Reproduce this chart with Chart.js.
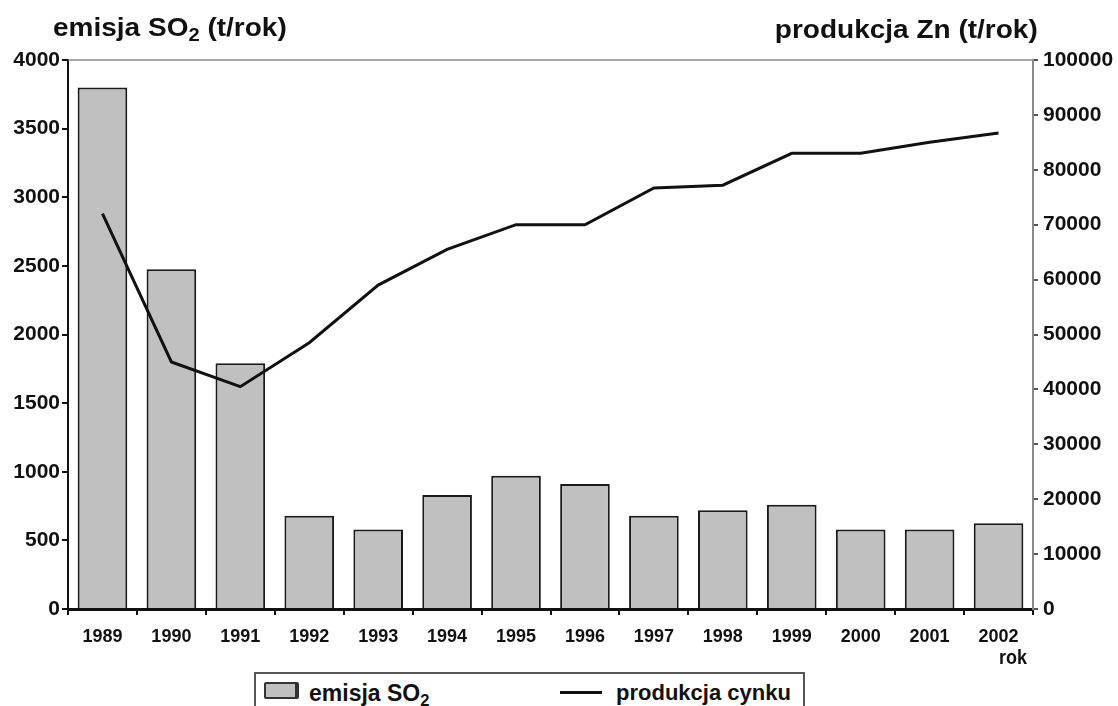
<!DOCTYPE html>
<html>
<head>
<meta charset="utf-8">
<script src="https://cdn.jsdelivr.net/npm/chart.js@4.4.1/dist/chart.umd.min.js"></script>
<style>
html,body{margin:0;padding:0;background:#fff;}
#wrap{position:relative;width:1118px;height:706px;overflow:hidden;font-family:'Liberation Sans',Arial,sans-serif;}
#c{position:absolute;left:0;top:0;}
.t{position:absolute;font-weight:bold;color:#111;white-space:nowrap;line-height:1;}
.t sub{font-size:0.72em;vertical-align:-0.28em;line-height:0;}
</style>
</head>
<body>
<div id="wrap">
  <canvas id="c" width="1118" height="706"></canvas>
  <div class="t" id="tl" style="left:53px;top:15px;font-size:25px;transform:scaleX(1.12);transform-origin:left top;">emisja SO<sub>2</sub> (t/rok)</div>
  <div class="t" id="tr" style="right:80px;top:17px;font-size:25px;transform:scaleX(1.12);transform-origin:right top;">produkcja Zn (t/rok)</div>
  <div class="t" id="rok" style="left:999px;top:647px;font-size:18px;transform:scaleY(1.15);transform-origin:left top;">rok</div>
  <div id="legend" style="position:absolute;left:254px;top:672px;width:551px;height:44px;border:2px solid #555;box-sizing:border-box;background:#fff;">
    <div style="position:absolute;left:8px;top:8px;width:35px;height:17px;background:#c0c0c0;border:2px solid #333;border-right-width:4px;border-radius:2px;box-sizing:border-box;"></div>
    <div class="t" style="left:53px;top:8px;font-size:23px;">emisja SO<sub>2</sub></div>
    <div style="position:absolute;left:304px;top:17px;width:42px;height:3px;background:#111;"></div>
    <div class="t" style="left:360px;top:8px;font-size:22px;">produkcja cynku</div>
  </div>
</div>
<script>
// ---- data ----
const years = ['1989','1990','1991','1992','1993','1994','1995','1996','1997','1998','1999','2000','2001','2002'];
const emisjaSO2 = [3800, 2475, 1790, 680, 580, 830, 970, 910, 680, 720, 760, 580, 580, 625];
const produkcjaZn = [72000, 45000, 40500, 48500, 59000, 65500, 70000, 70000, 76700, 77200, 83000, 83000, 85000, 86700];
const leftTicks = [0, 500, 1000, 1500, 2000, 2500, 3000, 3500, 4000];
const rightTicks = [0, 10000, 20000, 30000, 40000, 50000, 60000, 70000, 80000, 90000, 100000];

const tickFont = {family: "'Liberation Sans', Arial, sans-serif", size: 21, weight: 'bold'};
const xFont = {family: "'Liberation Sans', Arial, sans-serif", size: 18, weight: 'bold'};

const topBorder = {
  id: 'topBorder',
  afterDraw(chart) {
    const {ctx, chartArea} = chart;
    ctx.save();
    ctx.strokeStyle = '#888';
    ctx.lineWidth = 1.5;
    ctx.beginPath();
    ctx.moveTo(chartArea.left, chartArea.top);
    ctx.lineTo(chartArea.right, chartArea.top);
    ctx.stroke();
    ctx.restore();
  }
};

new Chart(document.getElementById('c'), {
  data: {
    labels: years,
    datasets: [
      {
        type: 'line',
        label: 'produkcja cynku',
        data: produkcjaZn,
        yAxisID: 'y2',
        borderColor: '#111',
        borderWidth: 3,
        pointRadius: 0,
        tension: 0,
        order: 0
      },
      {
        type: 'bar',
        label: 'emisja SO2',
        data: emisjaSO2,
        yAxisID: 'y',
        backgroundColor: '#c0c0c0',
        borderColor: '#1a1a1a',
        borderWidth: 2,
        categoryPercentage: 1,
        barPercentage: 0.72,
        order: 1
      }
    ]
  },
  options: {
    responsive: false,
    devicePixelRatio: 1,
    animation: false,
    layout: {padding: {top: 60, left: 0, right: 0, bottom: 0}},
    plugins: {legend: {display: false}, tooltip: {enabled: false}, title: {display: false}},
    scales: {
      x: {
        offset: true,
        grid: {display: true, drawOnChartArea: false, offset: true, tickLength: 6, color: '#111', lineWidth: 2},
        border: {display: true, color: '#111', width: 3},
        ticks: {font: xFont, color: '#111', padding: 11, maxRotation: 0, autoSkip: false},
        afterFit(s) { s.height = 97; }
      },
      y: {
        position: 'left',
        min: 0, max: 4000,
        afterBuildTicks(s) { s.ticks = leftTicks.map(v => ({value: v})); },
        grid: {display: true, drawOnChartArea: false, tickLength: 6, color: '#111', lineWidth: 2},
        border: {display: true, color: '#111', width: 2},
        ticks: {font: tickFont, color: '#111', padding: 2, callback: v => String(v)},
        afterFit(s) { s.width = 68; }
      },
      y2: {
        position: 'right',
        min: 0, max: 100000,
        afterBuildTicks(s) { s.ticks = rightTicks.map(v => ({value: v})); },
        grid: {display: true, drawOnChartArea: false, tickLength: 5, color: '#555', lineWidth: 2},
        border: {display: true, color: '#888', width: 2},
        ticks: {font: tickFont, color: '#111', padding: 5, callback: v => String(v)},
        afterFit(s) { s.width = 85; }
      }
    }
  },
  plugins: [topBorder]
});
</script>
</body>
</html>
